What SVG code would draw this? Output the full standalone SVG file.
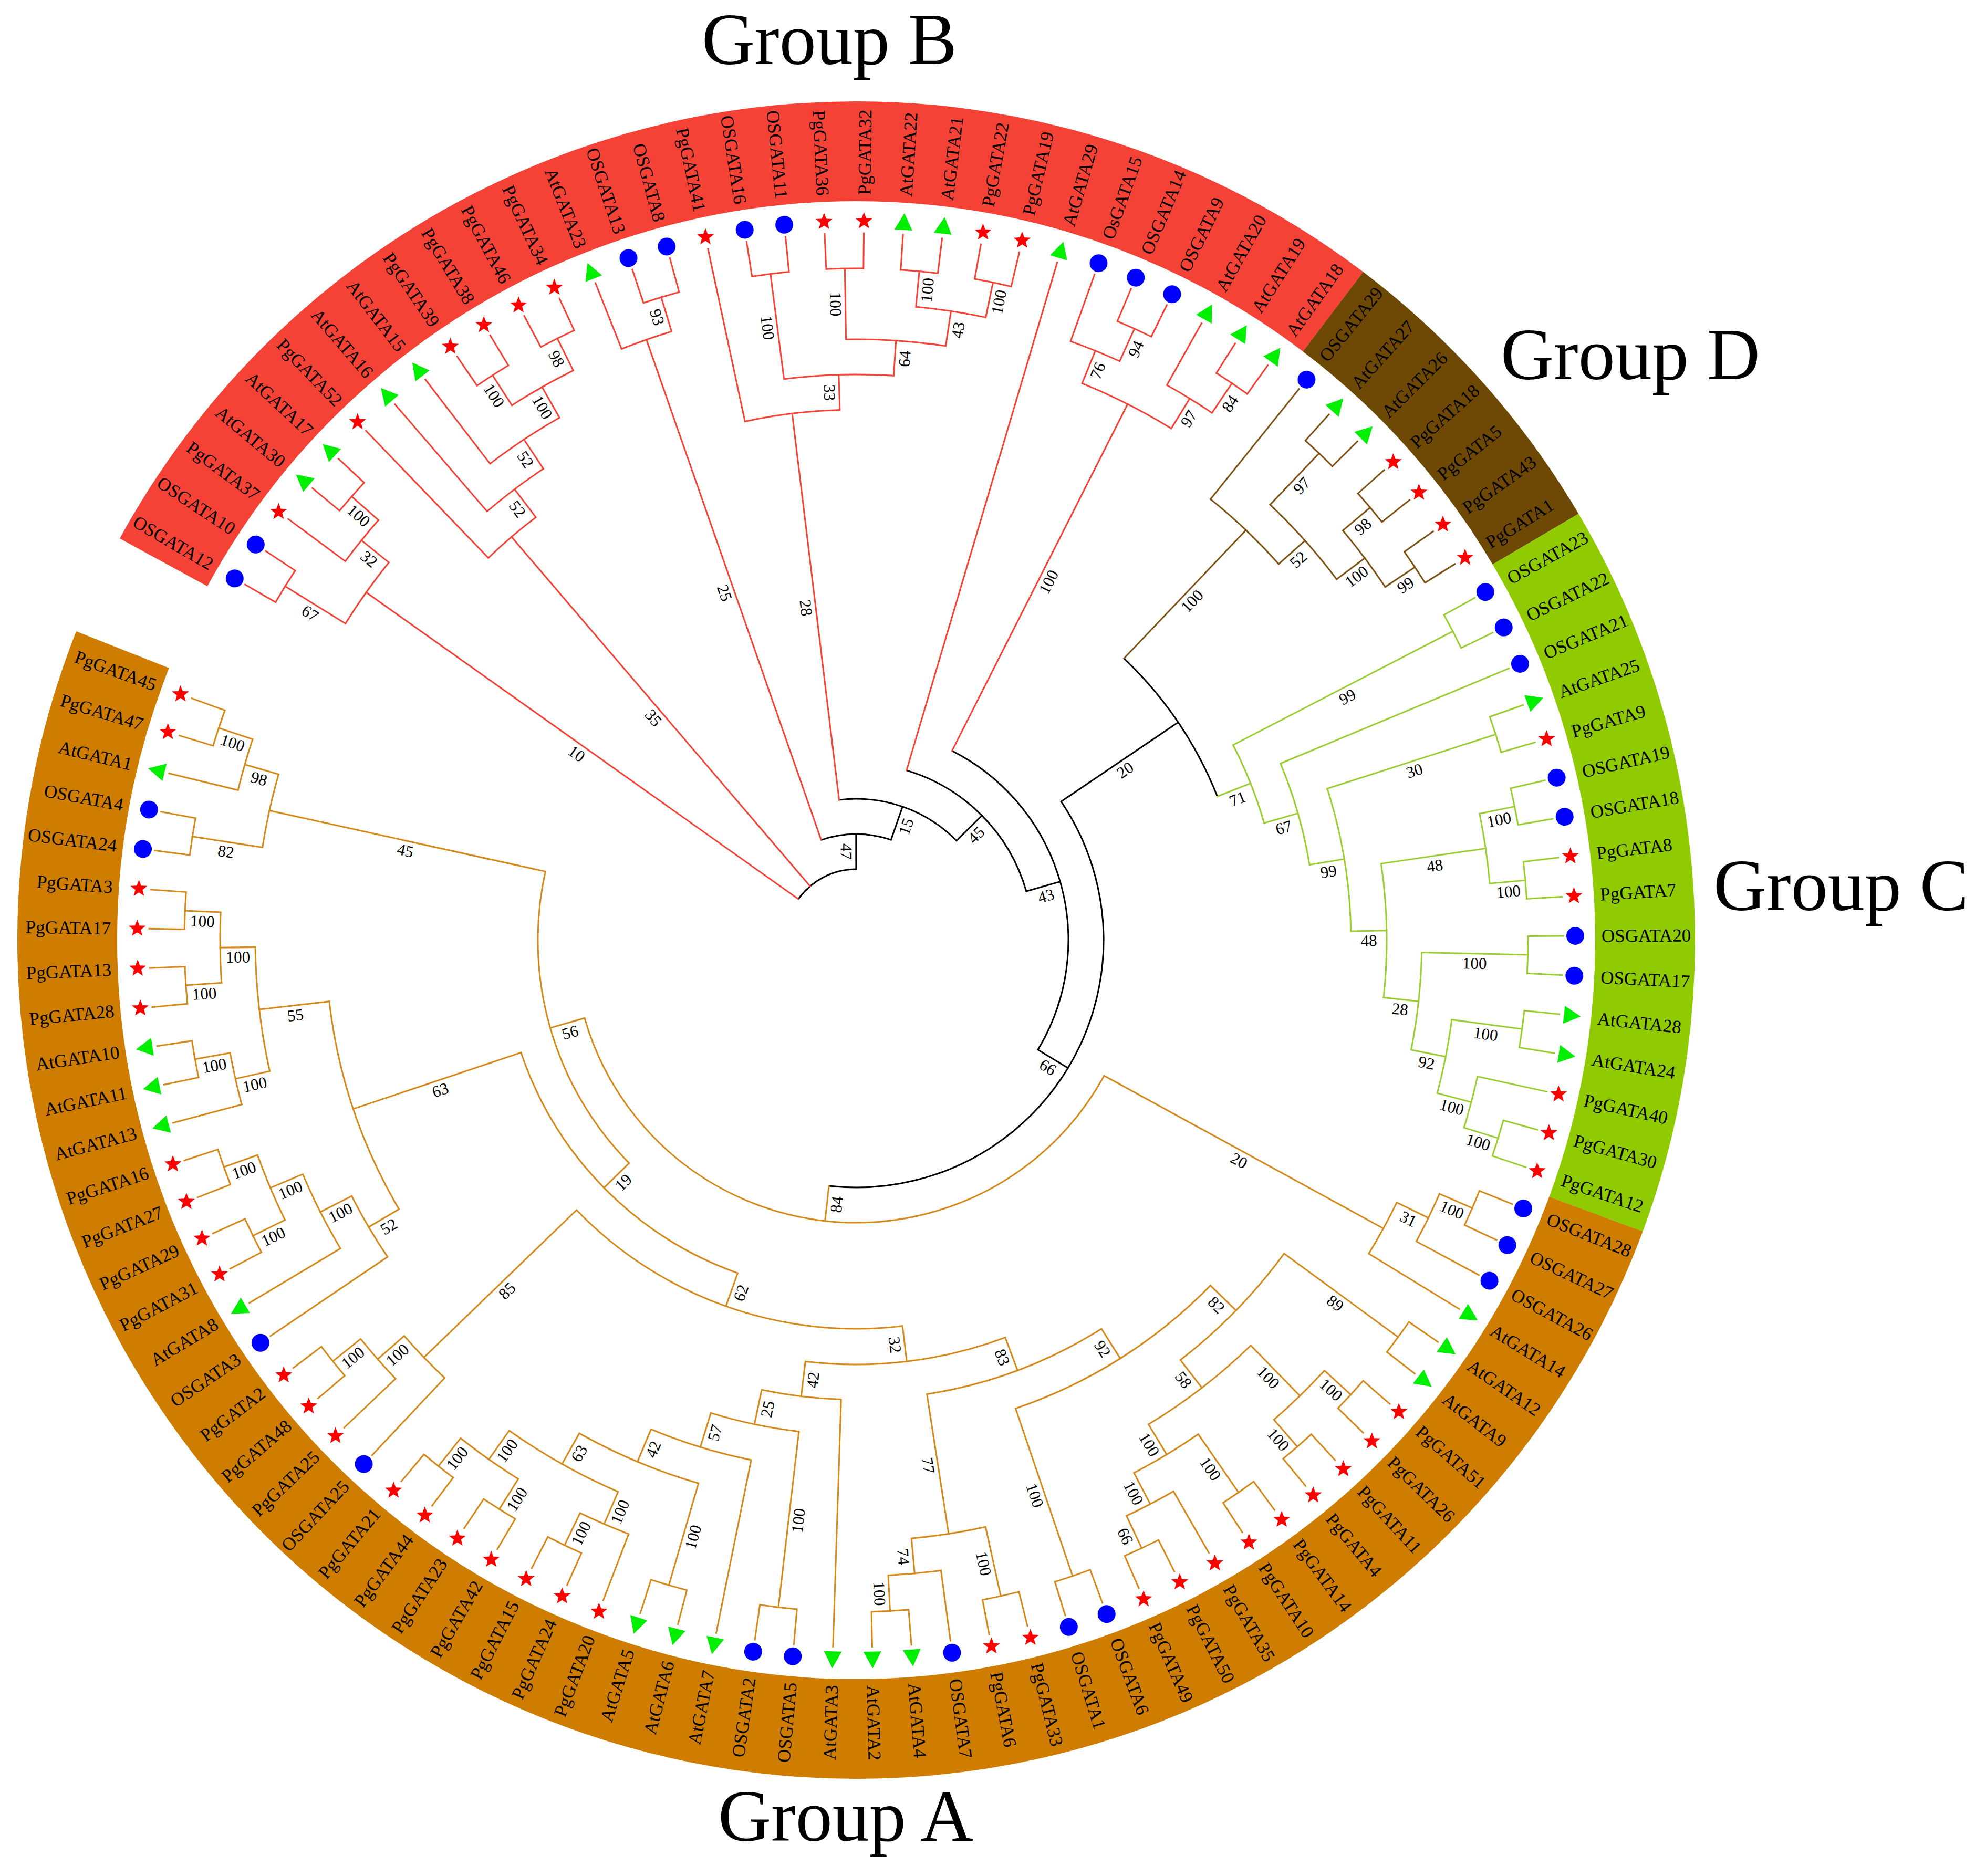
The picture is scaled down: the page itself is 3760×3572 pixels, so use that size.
<svg xmlns="http://www.w3.org/2000/svg" width="3760" height="3572" viewBox="0 0 3760 3572">
<style>
text{font-family:"Liberation Serif","Times New Roman",serif;fill:#000}
.lf{font-size:35px}
.f{text-anchor:end}
.bs text{font-size:31px;text-anchor:middle}
.ttl{font-size:140px}
#connectors{fill:none;stroke-width:3}
#connectors path{stroke-linecap:square}
.r{stroke:#F44336}.k{stroke:#000}.o{stroke:#D4891A}.g{stroke:#9ACD32}.b{stroke:#7D5214}
.band{fill:none;stroke-width:190}
</style>
<defs>
<polygon id="s" fill="#FF0000" points="0,-17 4.23,-5.82 16.17,-5.25 6.85,2.22 9.99,13.75 0,7.2 -9.99,13.75 -6.85,2.22 -16.17,-5.25 -4.23,-5.82"/>
<circle id="c" r="17" fill="#0000FF"/>
<polygon id="t" fill="#00EE00" points="18,0 -14,-17 -14,17"/>
</defs>
<rect width="3760" height="3572" fill="#FFFFFF"/>
<g transform="translate(1630,1790) rotate(210.2)">
<g id="bands">
<circle class="band" r="1502" stroke="#F44336" transform="rotate(-1.59)" stroke-dasharray="2584.26 99999"/>
<circle class="band" r="1502" stroke="#6E4805" transform="rotate(96.99)" stroke-dasharray="583.54 99999"/>
<circle class="band" r="1502" stroke="#8FCB00" transform="rotate(119.25)" stroke-dasharray="1333.81 99999"/>
<circle class="band" r="1502" stroke="#CE7D00" transform="rotate(170.13)" stroke-dasharray="4751.71 99999"/>
</g>
<g id="connectors">
<g class="k">
<circle r="135" transform="rotate(5.1675)" stroke-dasharray="128.62 99999"/>
<circle r="202" transform="rotate(40.545)" stroke-dasharray="135.44 99999"/>
<circle r="269" transform="rotate(52.868)" stroke-dasharray="245.02 99999"/>
<circle r="337" transform="rotate(76.32)" stroke-dasharray="338.04 99999"/>
<circle r="404" transform="rotate(86.655)" stroke-dasharray="664.74 99999"/>
<circle r="471" transform="rotate(115.728)" stroke-dasharray="1071.96 99999"/>
<circle r="740" transform="rotate(103.35)" stroke-dasharray="319.75 99999"/>
<path d="M135 0H202" transform="rotate(59.753)"/>
<path d="M202 0H269" transform="rotate(78.962)"/>
<path d="M269 0H337" transform="rotate(105.056)"/>
<path d="M337 0H404" transform="rotate(133.792)"/>
<path d="M404 0H471" transform="rotate(180.929)"/>
<path d="M471 0H740" transform="rotate(115.728)"/>
</g>
<g class="r">
<circle r="1144" transform="rotate(1.59)" stroke-dasharray="142.86 99999"/>
<circle r="1279" transform="rotate(0)" stroke-dasharray="70.99 99999"/>
<circle r="1211" transform="rotate(6.36)" stroke-dasharray="100.82 99999"/>
<circle r="1279" transform="rotate(9.54)" stroke-dasharray="70.99 99999"/>
<circle r="1010" transform="rotate(15.9)" stroke-dasharray="119.12 99999"/>
<circle r="1077" transform="rotate(19.08)" stroke-dasharray="134.49 99999"/>
<circle r="1144" transform="rotate(22.26)" stroke-dasharray="158.73 99999"/>
<circle r="1211" transform="rotate(27.03)" stroke-dasharray="134.42 99999"/>
<circle r="1279" transform="rotate(25.44)" stroke-dasharray="70.99 99999"/>
<circle r="1279" transform="rotate(31.8)" stroke-dasharray="70.99 99999"/>
<circle r="1211" transform="rotate(38.16)" stroke-dasharray="100.82 99999"/>
<circle r="1279" transform="rotate(41.34)" stroke-dasharray="70.99 99999"/>
<circle r="1010" transform="rotate(47.7)" stroke-dasharray="182.18 99999"/>
<circle r="1077" transform="rotate(52.47)" stroke-dasharray="209.21 99999"/>
<circle r="1279" transform="rotate(50.88)" stroke-dasharray="70.99 99999"/>
<circle r="1144" transform="rotate(58.83)" stroke-dasharray="190.48 99999"/>
<circle r="1279" transform="rotate(57.24)" stroke-dasharray="70.99 99999"/>
<circle r="1211" transform="rotate(65.19)" stroke-dasharray="134.42 99999"/>
<circle r="1279" transform="rotate(63.6)" stroke-dasharray="70.99 99999"/>
<circle r="1279" transform="rotate(69.96)" stroke-dasharray="70.99 99999"/>
<circle r="1144" transform="rotate(81.885)" stroke-dasharray="190.48 99999"/>
<circle r="1211" transform="rotate(79.5)" stroke-dasharray="100.82 99999"/>
<circle r="1279" transform="rotate(82.68)" stroke-dasharray="70.99 99999"/>
<circle r="1211" transform="rotate(89.04)" stroke-dasharray="100.82 99999"/>
<circle r="1279" transform="rotate(92.22)" stroke-dasharray="70.99 99999"/>
<path d="M135 0H1144" transform="rotate(5.1675)"/>
<path d="M1144 0H1279" transform="rotate(1.59)"/>
<path d="M1144 0H1211" transform="rotate(8.745)"/>
<path d="M1211 0H1279" transform="rotate(11.13)"/>
<path d="M135 0H1010" transform="rotate(19.279)"/>
<path d="M1010 0H1077" transform="rotate(22.6575)"/>
<path d="M1077 0H1144" transform="rotate(26.235)"/>
<path d="M1144 0H1211" transform="rotate(30.21)"/>
<path d="M1211 0H1279" transform="rotate(27.03)"/>
<path d="M1211 0H1279" transform="rotate(33.39)"/>
<path d="M202 0H1211" transform="rotate(40.545)"/>
<path d="M1211 0H1279" transform="rotate(42.93)"/>
<path d="M269 0H1010" transform="rotate(52.868)"/>
<path d="M1010 0H1077" transform="rotate(58.035)"/>
<path d="M1077 0H1279" transform="rotate(52.47)"/>
<path d="M1077 0H1144" transform="rotate(63.6)"/>
<path d="M1144 0H1279" transform="rotate(58.83)"/>
<path d="M1144 0H1211" transform="rotate(68.37)"/>
<path d="M1211 0H1279" transform="rotate(65.19)"/>
<path d="M1211 0H1279" transform="rotate(71.55)"/>
<path d="M404 0H1144" transform="rotate(86.655)"/>
<path d="M1144 0H1211" transform="rotate(81.885)"/>
<path d="M1211 0H1279" transform="rotate(84.27)"/>
<path d="M1144 0H1211" transform="rotate(91.425)"/>
<path d="M1211 0H1279" transform="rotate(93.81)"/>
<path d="M1279 0H1346" transform="rotate(0)"/>
<path d="M1279 0H1346" transform="rotate(3.18)"/>
<path d="M1211 0H1346" transform="rotate(6.36)"/>
<path d="M1279 0H1346" transform="rotate(9.54)"/>
<path d="M1279 0H1346" transform="rotate(12.72)"/>
<path d="M1010 0H1346" transform="rotate(15.9)"/>
<path d="M1077 0H1346" transform="rotate(19.08)"/>
<path d="M1144 0H1346" transform="rotate(22.26)"/>
<path d="M1279 0H1346" transform="rotate(25.44)"/>
<path d="M1279 0H1346" transform="rotate(28.62)"/>
<path d="M1279 0H1346" transform="rotate(31.8)"/>
<path d="M1279 0H1346" transform="rotate(34.98)"/>
<path d="M1211 0H1346" transform="rotate(38.16)"/>
<path d="M1279 0H1346" transform="rotate(41.34)"/>
<path d="M1279 0H1346" transform="rotate(44.52)"/>
<path d="M1010 0H1346" transform="rotate(47.7)"/>
<path d="M1279 0H1346" transform="rotate(50.88)"/>
<path d="M1279 0H1346" transform="rotate(54.06)"/>
<path d="M1279 0H1346" transform="rotate(57.24)"/>
<path d="M1279 0H1346" transform="rotate(60.42)"/>
<path d="M1279 0H1346" transform="rotate(63.6)"/>
<path d="M1279 0H1346" transform="rotate(66.78)"/>
<path d="M1279 0H1346" transform="rotate(69.96)"/>
<path d="M1279 0H1346" transform="rotate(73.14)"/>
<path d="M337 0H1346" transform="rotate(76.32)"/>
<path d="M1211 0H1346" transform="rotate(79.5)"/>
<path d="M1279 0H1346" transform="rotate(82.68)"/>
<path d="M1279 0H1346" transform="rotate(85.86)"/>
<path d="M1211 0H1346" transform="rotate(89.04)"/>
<path d="M1279 0H1346" transform="rotate(92.22)"/>
<path d="M1279 0H1346" transform="rotate(95.4)"/>
</g>
<g class="b">
<circle r="1077" transform="rotate(98.58)" stroke-dasharray="179.33 99999"/>
<circle r="1144" transform="rotate(103.35)" stroke-dasharray="190.48 99999"/>
<circle r="1279" transform="rotate(101.76)" stroke-dasharray="70.99 99999"/>
<circle r="1211" transform="rotate(109.71)" stroke-dasharray="134.42 99999"/>
<circle r="1279" transform="rotate(108.12)" stroke-dasharray="70.99 99999"/>
<circle r="1279" transform="rotate(114.48)" stroke-dasharray="70.99 99999"/>
<path d="M740 0H1077" transform="rotate(103.35)"/>
<path d="M1077 0H1144" transform="rotate(108.12)"/>
<path d="M1144 0H1279" transform="rotate(103.35)"/>
<path d="M1144 0H1211" transform="rotate(112.89)"/>
<path d="M1211 0H1279" transform="rotate(109.71)"/>
<path d="M1211 0H1279" transform="rotate(116.07)"/>
<path d="M1077 0H1346" transform="rotate(98.58)"/>
<path d="M1279 0H1346" transform="rotate(101.76)"/>
<path d="M1279 0H1346" transform="rotate(104.94)"/>
<path d="M1279 0H1346" transform="rotate(108.12)"/>
<path d="M1279 0H1346" transform="rotate(111.3)"/>
<path d="M1279 0H1346" transform="rotate(114.48)"/>
<path d="M1279 0H1346" transform="rotate(117.66)"/>
</g>
<g class="g">
<circle r="808" transform="rotate(122.43)" stroke-dasharray="160.11 99999"/>
<circle r="1279" transform="rotate(120.84)" stroke-dasharray="70.99 99999"/>
<circle r="875" transform="rotate(127.2)" stroke-dasharray="201.08 99999"/>
<circle r="942" transform="rotate(131.97)" stroke-dasharray="276.11 99999"/>
<circle r="1279" transform="rotate(130.38)" stroke-dasharray="70.99 99999"/>
<circle r="1010" transform="rotate(141.51)" stroke-dasharray="255.76 99999"/>
<circle r="1211" transform="rotate(138.33)" stroke-dasharray="134.42 99999"/>
<circle r="1279" transform="rotate(136.74)" stroke-dasharray="70.99 99999"/>
<circle r="1279" transform="rotate(143.1)" stroke-dasharray="70.99 99999"/>
<circle r="1077" transform="rotate(151.05)" stroke-dasharray="186.80 99999"/>
<circle r="1279" transform="rotate(149.46)" stroke-dasharray="70.99 99999"/>
<circle r="1144" transform="rotate(157.41)" stroke-dasharray="142.86 99999"/>
<circle r="1279" transform="rotate(155.82)" stroke-dasharray="70.99 99999"/>
<circle r="1211" transform="rotate(162.18)" stroke-dasharray="100.82 99999"/>
<circle r="1279" transform="rotate(165.36)" stroke-dasharray="70.99 99999"/>
<path d="M740 0H808" transform="rotate(128.107)"/>
<path d="M808 0H1279" transform="rotate(122.43)"/>
<path d="M808 0H875" transform="rotate(133.784)"/>
<path d="M875 0H942" transform="rotate(140.367)"/>
<path d="M942 0H1279" transform="rotate(131.97)"/>
<path d="M942 0H1010" transform="rotate(148.764)"/>
<path d="M1010 0H1211" transform="rotate(141.51)"/>
<path d="M1211 0H1279" transform="rotate(138.33)"/>
<path d="M1211 0H1279" transform="rotate(144.69)"/>
<path d="M1010 0H1077" transform="rotate(156.019)"/>
<path d="M1077 0H1279" transform="rotate(151.05)"/>
<path d="M1077 0H1144" transform="rotate(160.9875)"/>
<path d="M1144 0H1279" transform="rotate(157.41)"/>
<path d="M1144 0H1211" transform="rotate(164.565)"/>
<path d="M1211 0H1279" transform="rotate(166.95)"/>
<path d="M1279 0H1346" transform="rotate(120.84)"/>
<path d="M1279 0H1346" transform="rotate(124.02)"/>
<path d="M875 0H1346" transform="rotate(127.2)"/>
<path d="M1279 0H1346" transform="rotate(130.38)"/>
<path d="M1279 0H1346" transform="rotate(133.56)"/>
<path d="M1279 0H1346" transform="rotate(136.74)"/>
<path d="M1279 0H1346" transform="rotate(139.92)"/>
<path d="M1279 0H1346" transform="rotate(143.1)"/>
<path d="M1279 0H1346" transform="rotate(146.28)"/>
<path d="M1279 0H1346" transform="rotate(149.46)"/>
<path d="M1279 0H1346" transform="rotate(152.64)"/>
<path d="M1279 0H1346" transform="rotate(155.82)"/>
<path d="M1279 0H1346" transform="rotate(159)"/>
<path d="M1211 0H1346" transform="rotate(162.18)"/>
<path d="M1279 0H1346" transform="rotate(165.36)"/>
<path d="M1279 0H1346" transform="rotate(168.54)"/>
</g>
<g class="o">
<circle r="538" transform="rotate(178.478)" stroke-dasharray="1270.48 99999"/>
<circle r="1144" transform="rotate(175.695)" stroke-dasharray="111.11 99999"/>
<circle r="1211" transform="rotate(173.31)" stroke-dasharray="100.82 99999"/>
<circle r="1279" transform="rotate(171.72)" stroke-dasharray="70.99 99999"/>
<circle r="606" transform="rotate(285.312)" stroke-dasharray="602.19 99999"/>
<circle r="673" transform="rotate(259.381)" stroke-dasharray="609.17 99999"/>
<circle r="740" transform="rotate(232.96)" stroke-dasharray="682.49 99999"/>
<circle r="808" transform="rotate(219.246)" stroke-dasharray="386.79 99999"/>
<circle r="875" transform="rotate(207.545)" stroke-dasharray="357.40 99999"/>
<circle r="875" transform="rotate(241.68)" stroke-dasharray="152.52 99999"/>
<circle r="942" transform="rotate(194.08)" stroke-dasharray="442.76 99999"/>
<circle r="942" transform="rotate(246.45)" stroke-dasharray="171.55 99999"/>
<circle r="1010" transform="rotate(186.03)" stroke-dasharray="283.79 99999"/>
<circle r="1010" transform="rotate(251.22)" stroke-dasharray="199.70 99999"/>
<circle r="1010" transform="rotate(299.3175)" stroke-dasharray="420.42 99999"/>
<circle r="1077" transform="rotate(195.57)" stroke-dasharray="246.57 99999"/>
<circle r="1144" transform="rotate(227.37)" stroke-dasharray="142.86 99999"/>
<circle r="1077" transform="rotate(255.99)" stroke-dasharray="246.57 99999"/>
<circle r="1077" transform="rotate(295.74)" stroke-dasharray="134.49 99999"/>
<circle r="1144" transform="rotate(205.11)" stroke-dasharray="142.86 99999"/>
<circle r="1211" transform="rotate(192.39)" stroke-dasharray="134.42 99999"/>
<circle r="1279" transform="rotate(190.8)" stroke-dasharray="70.99 99999"/>
<circle r="1279" transform="rotate(197.16)" stroke-dasharray="70.99 99999"/>
<circle r="1279" transform="rotate(203.52)" stroke-dasharray="70.99 99999"/>
<circle r="1211" transform="rotate(209.88)" stroke-dasharray="100.82 99999"/>
<circle r="1279" transform="rotate(213.06)" stroke-dasharray="70.99 99999"/>
<circle r="1279" transform="rotate(184.44)" stroke-dasharray="70.99 99999"/>
<circle r="1279" transform="rotate(219.42)" stroke-dasharray="70.99 99999"/>
<circle r="1279" transform="rotate(225.78)" stroke-dasharray="70.99 99999"/>
<circle r="1211" transform="rotate(232.14)" stroke-dasharray="100.82 99999"/>
<circle r="1279" transform="rotate(235.32)" stroke-dasharray="70.99 99999"/>
<circle r="1279" transform="rotate(244.86)" stroke-dasharray="70.99 99999"/>
<circle r="1279" transform="rotate(254.4)" stroke-dasharray="70.99 99999"/>
<circle r="1144" transform="rotate(263.145)" stroke-dasharray="238.10 99999"/>
<circle r="1211" transform="rotate(260.76)" stroke-dasharray="100.82 99999"/>
<circle r="1279" transform="rotate(263.94)" stroke-dasharray="70.99 99999"/>
<circle r="1211" transform="rotate(271.89)" stroke-dasharray="134.42 99999"/>
<circle r="1279" transform="rotate(270.3)" stroke-dasharray="70.99 99999"/>
<circle r="1279" transform="rotate(276.66)" stroke-dasharray="70.99 99999"/>
<circle r="1144" transform="rotate(283.02)" stroke-dasharray="111.11 99999"/>
<circle r="1211" transform="rotate(286.2)" stroke-dasharray="100.82 99999"/>
<circle r="1279" transform="rotate(289.38)" stroke-dasharray="70.99 99999"/>
<circle r="1144" transform="rotate(298.92)" stroke-dasharray="158.73 99999"/>
<circle r="1211" transform="rotate(303.69)" stroke-dasharray="134.42 99999"/>
<circle r="1279" transform="rotate(302.1)" stroke-dasharray="70.99 99999"/>
<circle r="1279" transform="rotate(308.46)" stroke-dasharray="70.99 99999"/>
<circle r="1144" transform="rotate(317.205)" stroke-dasharray="238.10 99999"/>
<circle r="1211" transform="rotate(314.82)" stroke-dasharray="100.82 99999"/>
<circle r="1279" transform="rotate(318)" stroke-dasharray="70.99 99999"/>
<circle r="1211" transform="rotate(325.95)" stroke-dasharray="134.42 99999"/>
<circle r="1279" transform="rotate(324.36)" stroke-dasharray="70.99 99999"/>
<circle r="1279" transform="rotate(330.72)" stroke-dasharray="70.99 99999"/>
<circle r="1144" transform="rotate(338.67)" stroke-dasharray="142.86 99999"/>
<circle r="1279" transform="rotate(337.08)" stroke-dasharray="70.99 99999"/>
<circle r="1211" transform="rotate(343.44)" stroke-dasharray="100.82 99999"/>
<circle r="1279" transform="rotate(346.62)" stroke-dasharray="70.99 99999"/>
<path d="M471 0H538" transform="rotate(246.129)"/>
<path d="M538 0H1144" transform="rotate(178.478)"/>
<path d="M1144 0H1211" transform="rotate(175.695)"/>
<path d="M1211 0H1279" transform="rotate(173.31)"/>
<path d="M538 0H606" transform="rotate(313.78)"/>
<path d="M606 0H673" transform="rotate(285.312)"/>
<path d="M606 0H1144" transform="rotate(342.248)"/>
<path d="M1144 0H1279" transform="rotate(338.67)"/>
<path d="M1144 0H1211" transform="rotate(345.825)"/>
<path d="M1211 0H1279" transform="rotate(348.21)"/>
<path d="M673 0H740" transform="rotate(259.381)"/>
<path d="M673 0H1010" transform="rotate(311.243)"/>
<path d="M1010 0H1077" transform="rotate(299.3175)"/>
<path d="M1077 0H1144" transform="rotate(302.895)"/>
<path d="M1144 0H1211" transform="rotate(306.87)"/>
<path d="M1211 0H1279" transform="rotate(303.69)"/>
<path d="M1211 0H1279" transform="rotate(310.05)"/>
<path d="M1010 0H1144" transform="rotate(323.1675)"/>
<path d="M1144 0H1211" transform="rotate(317.205)"/>
<path d="M1211 0H1279" transform="rotate(319.59)"/>
<path d="M1144 0H1211" transform="rotate(329.13)"/>
<path d="M1211 0H1279" transform="rotate(325.95)"/>
<path d="M1211 0H1279" transform="rotate(332.31)"/>
<path d="M740 0H1144" transform="rotate(285.803)"/>
<path d="M1144 0H1211" transform="rotate(288.585)"/>
<path d="M1211 0H1279" transform="rotate(290.97)"/>
<path d="M740 0H808" transform="rotate(232.96)"/>
<path d="M808 0H875" transform="rotate(219.246)"/>
<path d="M808 0H875" transform="rotate(246.674)"/>
<path d="M875 0H942" transform="rotate(207.545)"/>
<path d="M875 0H1144" transform="rotate(230.948)"/>
<path d="M875 0H942" transform="rotate(251.667)"/>
<path d="M942 0H1010" transform="rotate(194.08)"/>
<path d="M942 0H1279" transform="rotate(221.01)"/>
<path d="M942 0H1010" transform="rotate(256.884)"/>
<path d="M942 0H1279" transform="rotate(246.45)"/>
<path d="M1010 0H1279" transform="rotate(186.03)"/>
<path d="M1010 0H1077" transform="rotate(202.129)"/>
<path d="M1010 0H1077" transform="rotate(262.549)"/>
<path d="M1077 0H1144" transform="rotate(208.6875)"/>
<path d="M1077 0H1211" transform="rotate(195.57)"/>
<path d="M1211 0H1279" transform="rotate(192.39)"/>
<path d="M1211 0H1279" transform="rotate(198.75)"/>
<path d="M1144 0H1279" transform="rotate(205.11)"/>
<path d="M1144 0H1211" transform="rotate(212.265)"/>
<path d="M1211 0H1279" transform="rotate(214.65)"/>
<path d="M1144 0H1211" transform="rotate(234.525)"/>
<path d="M1211 0H1279" transform="rotate(236.91)"/>
<path d="M1144 0H1279" transform="rotate(227.37)"/>
<path d="M1077 0H1144" transform="rotate(269.1075)"/>
<path d="M1077 0H1279" transform="rotate(255.99)"/>
<path d="M1144 0H1211" transform="rotate(263.145)"/>
<path d="M1211 0H1279" transform="rotate(265.53)"/>
<path d="M1144 0H1211" transform="rotate(275.07)"/>
<path d="M1211 0H1279" transform="rotate(271.89)"/>
<path d="M1211 0H1279" transform="rotate(278.25)"/>
<path d="M1279 0H1346" transform="rotate(171.72)"/>
<path d="M1279 0H1346" transform="rotate(174.9)"/>
<path d="M1211 0H1346" transform="rotate(178.08)"/>
<path d="M1144 0H1346" transform="rotate(181.26)"/>
<path d="M1279 0H1346" transform="rotate(184.44)"/>
<path d="M1279 0H1346" transform="rotate(187.62)"/>
<path d="M1279 0H1346" transform="rotate(190.8)"/>
<path d="M1279 0H1346" transform="rotate(193.98)"/>
<path d="M1279 0H1346" transform="rotate(197.16)"/>
<path d="M1279 0H1346" transform="rotate(200.34)"/>
<path d="M1279 0H1346" transform="rotate(203.52)"/>
<path d="M1279 0H1346" transform="rotate(206.7)"/>
<path d="M1211 0H1346" transform="rotate(209.88)"/>
<path d="M1279 0H1346" transform="rotate(213.06)"/>
<path d="M1279 0H1346" transform="rotate(216.24)"/>
<path d="M1279 0H1346" transform="rotate(219.42)"/>
<path d="M1279 0H1346" transform="rotate(222.6)"/>
<path d="M1279 0H1346" transform="rotate(225.78)"/>
<path d="M1279 0H1346" transform="rotate(228.96)"/>
<path d="M1211 0H1346" transform="rotate(232.14)"/>
<path d="M1279 0H1346" transform="rotate(235.32)"/>
<path d="M1279 0H1346" transform="rotate(238.5)"/>
<path d="M875 0H1346" transform="rotate(241.68)"/>
<path d="M1279 0H1346" transform="rotate(244.86)"/>
<path d="M1279 0H1346" transform="rotate(248.04)"/>
<path d="M1010 0H1346" transform="rotate(251.22)"/>
<path d="M1279 0H1346" transform="rotate(254.4)"/>
<path d="M1279 0H1346" transform="rotate(257.58)"/>
<path d="M1211 0H1346" transform="rotate(260.76)"/>
<path d="M1279 0H1346" transform="rotate(263.94)"/>
<path d="M1279 0H1346" transform="rotate(267.12)"/>
<path d="M1279 0H1346" transform="rotate(270.3)"/>
<path d="M1279 0H1346" transform="rotate(273.48)"/>
<path d="M1279 0H1346" transform="rotate(276.66)"/>
<path d="M1279 0H1346" transform="rotate(279.84)"/>
<path d="M1144 0H1346" transform="rotate(283.02)"/>
<path d="M1211 0H1346" transform="rotate(286.2)"/>
<path d="M1279 0H1346" transform="rotate(289.38)"/>
<path d="M1279 0H1346" transform="rotate(292.56)"/>
<path d="M1077 0H1346" transform="rotate(295.74)"/>
<path d="M1144 0H1346" transform="rotate(298.92)"/>
<path d="M1279 0H1346" transform="rotate(302.1)"/>
<path d="M1279 0H1346" transform="rotate(305.28)"/>
<path d="M1279 0H1346" transform="rotate(308.46)"/>
<path d="M1279 0H1346" transform="rotate(311.64)"/>
<path d="M1211 0H1346" transform="rotate(314.82)"/>
<path d="M1279 0H1346" transform="rotate(318)"/>
<path d="M1279 0H1346" transform="rotate(321.18)"/>
<path d="M1279 0H1346" transform="rotate(324.36)"/>
<path d="M1279 0H1346" transform="rotate(327.54)"/>
<path d="M1279 0H1346" transform="rotate(330.72)"/>
<path d="M1279 0H1346" transform="rotate(333.9)"/>
<path d="M1279 0H1346" transform="rotate(337.08)"/>
<path d="M1279 0H1346" transform="rotate(340.26)"/>
<path d="M1211 0H1346" transform="rotate(343.44)"/>
<path d="M1279 0H1346" transform="rotate(346.62)"/>
<path d="M1279 0H1346" transform="rotate(349.8)"/>
</g>
</g>
<g id="bootstrap" class="bs">
<text transform="rotate(185.1675)" x="-639.5" y="29">10</text>
<text transform="rotate(181.59)" x="-1211.5" y="29">67</text>
<text transform="rotate(188.745)" x="-1177.5" y="29">32</text>
<text transform="rotate(191.13)" x="-1245" y="29">100</text>
<text transform="rotate(199.279)" x="-572.5" y="29">35</text>
<text transform="rotate(202.6575)" x="-1043.5" y="29">52</text>
<text transform="rotate(206.235)" x="-1110.5" y="29">52</text>
<text transform="rotate(210.21)" x="-1177.5" y="29">100</text>
<text transform="rotate(207.03)" x="-1245" y="29">100</text>
<text transform="rotate(213.39)" x="-1245" y="29">98</text>
<text transform="rotate(220.545)" x="-706.5" y="29">25</text>
<text transform="rotate(222.93)" x="-1245" y="29">93</text>
<text transform="rotate(232.868)" x="-639.5" y="29">28</text>
<text transform="rotate(238.035)" x="-1043.5" y="29">33</text>
<text transform="rotate(232.47)" x="-1178" y="29">100</text>
<text transform="rotate(238.83)" x="-1211.5" y="29">100</text>
<text transform="rotate(239.753)" x="-168.5" y="29">47</text>
<text transform="rotate(63.6)" x="1110.5" y="29">64</text>
<text transform="rotate(68.37)" x="1177.5" y="29">43</text>
<text transform="rotate(65.19)" x="1245" y="29">100</text>
<text transform="rotate(71.55)" x="1245" y="29">100</text>
<text transform="rotate(86.655)" x="774" y="29">100</text>
<text transform="rotate(81.885)" x="1177.5" y="29">76</text>
<text transform="rotate(84.27)" x="1245" y="29">94</text>
<text transform="rotate(91.425)" x="1177.5" y="29">97</text>
<text transform="rotate(93.81)" x="1245" y="29">84</text>
<text transform="rotate(78.962)" x="235.5" y="29">15</text>
<text transform="rotate(105.056)" x="303" y="29">45</text>
<text transform="rotate(133.792)" x="370.5" y="29">43</text>
<text transform="rotate(180.929)" x="437.5" y="29">66</text>
<text transform="rotate(115.728)" x="605.5" y="29">20</text>
<text transform="rotate(103.35)" x="908.5" y="29">100</text>
<text transform="rotate(108.12)" x="1110.5" y="29">52</text>
<text transform="rotate(103.35)" x="1211.5" y="29">97</text>
<text transform="rotate(112.89)" x="1177.5" y="29">100</text>
<text transform="rotate(109.71)" x="1245" y="29">98</text>
<text transform="rotate(116.07)" x="1245" y="29">99</text>
<text transform="rotate(128.107)" x="774" y="29">71</text>
<text transform="rotate(122.43)" x="1043.5" y="29">99</text>
<text transform="rotate(133.784)" x="841.5" y="29">67</text>
<text transform="rotate(140.367)" x="908.5" y="29">99</text>
<text transform="rotate(131.97)" x="1110.5" y="29">30</text>
<text transform="rotate(148.764)" x="976" y="29">48</text>
<text transform="rotate(141.51)" x="1110.5" y="29">48</text>
<text transform="rotate(138.33)" x="1245" y="29">100</text>
<text transform="rotate(144.69)" x="1245" y="29">100</text>
<text transform="rotate(156.019)" x="1043.5" y="29">28</text>
<text transform="rotate(151.05)" x="1178" y="29">100</text>
<text transform="rotate(160.9875)" x="1110.5" y="29">92</text>
<text transform="rotate(157.41)" x="1211.5" y="29">100</text>
<text transform="rotate(164.565)" x="1177.5" y="29">100</text>
<text transform="rotate(166.95)" x="1245" y="29">100</text>
<text transform="rotate(178.478)" x="841" y="29">20</text>
<text transform="rotate(175.695)" x="1177.5" y="29">31</text>
<text transform="rotate(173.31)" x="1245" y="29">100</text>
<text transform="rotate(232.96)" x="774" y="29">32</text>
<text transform="rotate(219.246)" x="841.5" y="29">83</text>
<text transform="rotate(207.545)" x="908.5" y="29">92</text>
<text transform="rotate(230.948)" x="1009.5" y="29">77</text>
<text transform="rotate(194.08)" x="976" y="29">82</text>
<text transform="rotate(221.01)" x="1110.5" y="29">100</text>
<text transform="rotate(186.03)" x="1144.5" y="29">89</text>
<text transform="rotate(202.129)" x="1043.5" y="29">58</text>
<text transform="rotate(208.6875)" x="1110.5" y="29">100</text>
<text transform="rotate(195.57)" x="1144" y="29">100</text>
<text transform="rotate(192.39)" x="1245" y="29">100</text>
<text transform="rotate(198.75)" x="1245" y="29">100</text>
<text transform="rotate(205.11)" x="1211.5" y="29">100</text>
<text transform="rotate(212.265)" x="1177.5" y="29">100</text>
<text transform="rotate(214.65)" x="1245" y="29">66</text>
<text transform="rotate(234.525)" x="1177.5" y="29">74</text>
<text transform="rotate(236.91)" x="1245" y="29">100</text>
<text transform="rotate(227.37)" x="1211.5" y="29">100</text>
<text transform="rotate(426.129)" x="-504.5" y="29">84</text>
<text transform="rotate(493.78)" x="-572" y="29">56</text>
<text transform="rotate(465.312)" x="-639.5" y="29">19</text>
<text transform="rotate(522.248)" x="-875" y="29">45</text>
<text transform="rotate(518.67)" x="-1211.5" y="29">82</text>
<text transform="rotate(525.825)" x="-1177.5" y="29">98</text>
<text transform="rotate(528.21)" x="-1245" y="29">100</text>
<text transform="rotate(439.381)" x="-706.5" y="29">62</text>
<text transform="rotate(491.243)" x="-841.5" y="29">63</text>
<text transform="rotate(479.3175)" x="-1043.5" y="29">52</text>
<text transform="rotate(482.895)" x="-1110.5" y="29">100</text>
<text transform="rotate(486.87)" x="-1177.5" y="29">100</text>
<text transform="rotate(483.69)" x="-1245" y="29">100</text>
<text transform="rotate(490.05)" x="-1245" y="29">100</text>
<text transform="rotate(503.1675)" x="-1077" y="29">55</text>
<text transform="rotate(497.205)" x="-1177.5" y="29">100</text>
<text transform="rotate(499.59)" x="-1245" y="29">100</text>
<text transform="rotate(509.13)" x="-1177.5" y="29">100</text>
<text transform="rotate(505.95)" x="-1245" y="29">100</text>
<text transform="rotate(512.31)" x="-1245" y="29">100</text>
<text transform="rotate(465.803)" x="-942" y="29">85</text>
<text transform="rotate(468.585)" x="-1177.5" y="29">100</text>
<text transform="rotate(470.97)" x="-1245" y="29">100</text>
<text transform="rotate(426.674)" x="-841.5" y="29">42</text>
<text transform="rotate(431.667)" x="-908.5" y="29">25</text>
<text transform="rotate(436.884)" x="-976" y="29">57</text>
<text transform="rotate(426.45)" x="-1110.5" y="29">100</text>
<text transform="rotate(442.549)" x="-1043.5" y="29">42</text>
<text transform="rotate(449.1075)" x="-1110.5" y="29">63</text>
<text transform="rotate(435.99)" x="-1178" y="29">100</text>
<text transform="rotate(443.145)" x="-1177.5" y="29">100</text>
<text transform="rotate(445.53)" x="-1245" y="29">100</text>
<text transform="rotate(455.07)" x="-1177.5" y="29">100</text>
<text transform="rotate(451.89)" x="-1245" y="29">100</text>
<text transform="rotate(458.25)" x="-1245" y="29">100</text>
</g>
<g id="leaves">
<g id="OSGATA12" transform="rotate(0)"><use href="#c" x="1369"/><text class="lf f" transform="rotate(180)" x="-1419" y="12">OSGATA12</text></g>
<g id="OSGATA10" transform="rotate(3.18)"><use href="#c" x="1369"/><text class="lf f" transform="rotate(180)" x="-1419" y="12">OSGATA10</text></g>
<g id="PgGATA37" transform="rotate(6.36)"><use href="#s" transform="translate(1369) rotate(-216.56)"/><text class="lf f" transform="rotate(180)" x="-1419" y="12">PgGATA37</text></g>
<g id="AtGATA30" transform="rotate(9.54)"><use href="#t" x="1369"/><text class="lf f" transform="rotate(180)" x="-1419" y="12">AtGATA30</text></g>
<g id="AtGATA17" transform="rotate(12.72)"><use href="#t" x="1369"/><text class="lf f" transform="rotate(180)" x="-1419" y="12">AtGATA17</text></g>
<g id="PgGATA52" transform="rotate(15.9)"><use href="#s" transform="translate(1369) rotate(-226.1)"/><text class="lf f" transform="rotate(180)" x="-1419" y="12">PgGATA52</text></g>
<g id="AtGATA16" transform="rotate(19.08)"><use href="#t" x="1369"/><text class="lf f" transform="rotate(180)" x="-1419" y="12">AtGATA16</text></g>
<g id="AtGATA15" transform="rotate(22.26)"><use href="#t" x="1369"/><text class="lf f" transform="rotate(180)" x="-1419" y="12">AtGATA15</text></g>
<g id="PgGATA39" transform="rotate(25.44)"><use href="#s" transform="translate(1369) rotate(-235.64)"/><text class="lf f" transform="rotate(180)" x="-1419" y="12">PgGATA39</text></g>
<g id="PgGATA38" transform="rotate(28.62)"><use href="#s" transform="translate(1369) rotate(-238.82)"/><text class="lf f" transform="rotate(180)" x="-1419" y="12">PgGATA38</text></g>
<g id="PgGATA46" transform="rotate(31.8)"><use href="#s" transform="translate(1369) rotate(-242)"/><text class="lf f" transform="rotate(180)" x="-1419" y="12">PgGATA46</text></g>
<g id="PgGATA34" transform="rotate(34.98)"><use href="#s" transform="translate(1369) rotate(-245.18)"/><text class="lf f" transform="rotate(180)" x="-1419" y="12">PgGATA34</text></g>
<g id="AtGATA23" transform="rotate(38.16)"><use href="#t" x="1369"/><text class="lf f" transform="rotate(180)" x="-1419" y="12">AtGATA23</text></g>
<g id="OSGATA13" transform="rotate(41.34)"><use href="#c" x="1369"/><text class="lf f" transform="rotate(180)" x="-1419" y="12">OSGATA13</text></g>
<g id="OSGATA8" transform="rotate(44.52)"><use href="#c" x="1369"/><text class="lf f" transform="rotate(180)" x="-1419" y="12">OSGATA8</text></g>
<g id="PgGATA41" transform="rotate(47.7)"><use href="#s" transform="translate(1369) rotate(-257.9)"/><text class="lf f" transform="rotate(180)" x="-1419" y="12">PgGATA41</text></g>
<g id="OSGATA16" transform="rotate(50.88)"><use href="#c" x="1369"/><text class="lf f" transform="rotate(180)" x="-1419" y="12">OSGATA16</text></g>
<g id="OSGATA11" transform="rotate(54.06)"><use href="#c" x="1369"/><text class="lf f" transform="rotate(180)" x="-1419" y="12">OSGATA11</text></g>
<g id="PgGATA36" transform="rotate(57.24)"><use href="#s" transform="translate(1369) rotate(-267.44)"/><text class="lf f" transform="rotate(180)" x="-1419" y="12">PgGATA36</text></g>
<g id="PgGATA32" transform="rotate(60.42)"><use href="#s" transform="translate(1369) rotate(-270.62)"/><text class="lf" x="1419" y="12">PgGATA32</text></g>
<g id="AtGATA22" transform="rotate(63.6)"><use href="#t" x="1369"/><text class="lf" x="1419" y="12">AtGATA22</text></g>
<g id="AtGATA21" transform="rotate(66.78)"><use href="#t" x="1369"/><text class="lf" x="1419" y="12">AtGATA21</text></g>
<g id="PgGATA22" transform="rotate(69.96)"><use href="#s" transform="translate(1369) rotate(-280.16)"/><text class="lf" x="1419" y="12">PgGATA22</text></g>
<g id="PgGATA19" transform="rotate(73.14)"><use href="#s" transform="translate(1369) rotate(-283.34)"/><text class="lf" x="1419" y="12">PgGATA19</text></g>
<g id="AtGATA29" transform="rotate(76.32)"><use href="#t" x="1369"/><text class="lf" x="1419" y="12">AtGATA29</text></g>
<g id="OsGATA15" transform="rotate(79.5)"><use href="#c" x="1369"/><text class="lf" x="1419" y="12">OsGATA15</text></g>
<g id="OSGATA14" transform="rotate(82.68)"><use href="#c" x="1369"/><text class="lf" x="1419" y="12">OSGATA14</text></g>
<g id="OSGATA9" transform="rotate(85.86)"><use href="#c" x="1369"/><text class="lf" x="1419" y="12">OSGATA9</text></g>
<g id="AtGATA20" transform="rotate(89.04)"><use href="#t" x="1369"/><text class="lf" x="1419" y="12">AtGATA20</text></g>
<g id="AtGATA19" transform="rotate(92.22)"><use href="#t" x="1369"/><text class="lf" x="1419" y="12">AtGATA19</text></g>
<g id="AtGATA18" transform="rotate(95.4)"><use href="#t" x="1369"/><text class="lf" x="1419" y="12">AtGATA18</text></g>
<g id="OSGATA29" transform="rotate(98.58)"><use href="#c" x="1369"/><text class="lf" x="1419" y="12">OSGATA29</text></g>
<g id="AtGATA27" transform="rotate(101.76)"><use href="#t" x="1369"/><text class="lf" x="1419" y="12">AtGATA27</text></g>
<g id="AtGATA26" transform="rotate(104.94)"><use href="#t" x="1369"/><text class="lf" x="1419" y="12">AtGATA26</text></g>
<g id="PgGATA18" transform="rotate(108.12)"><use href="#s" transform="translate(1369) rotate(-318.32)"/><text class="lf" x="1419" y="12">PgGATA18</text></g>
<g id="PgGATA5" transform="rotate(111.3)"><use href="#s" transform="translate(1369) rotate(-321.5)"/><text class="lf" x="1419" y="12">PgGATA5</text></g>
<g id="PgGATA43" transform="rotate(114.48)"><use href="#s" transform="translate(1369) rotate(-324.68)"/><text class="lf" x="1419" y="12">PgGATA43</text></g>
<g id="PgGATA1" transform="rotate(117.66)"><use href="#s" transform="translate(1369) rotate(-327.86)"/><text class="lf" x="1419" y="12">PgGATA1</text></g>
<g id="OSGATA23" transform="rotate(120.84)"><use href="#c" x="1369"/><text class="lf" x="1419" y="12">OSGATA23</text></g>
<g id="OSGATA22" transform="rotate(124.02)"><use href="#c" x="1369"/><text class="lf" x="1419" y="12">OSGATA22</text></g>
<g id="OSGATA21" transform="rotate(127.2)"><use href="#c" x="1369"/><text class="lf" x="1419" y="12">OSGATA21</text></g>
<g id="AtGATA25" transform="rotate(130.38)"><use href="#t" x="1369"/><text class="lf" x="1419" y="12">AtGATA25</text></g>
<g id="PgGATA9" transform="rotate(133.56)"><use href="#s" transform="translate(1369) rotate(-343.76)"/><text class="lf" x="1419" y="12">PgGATA9</text></g>
<g id="OSGATA19" transform="rotate(136.74)"><use href="#c" x="1369"/><text class="lf" x="1419" y="12">OSGATA19</text></g>
<g id="OSGATA18" transform="rotate(139.92)"><use href="#c" x="1369"/><text class="lf" x="1419" y="12">OSGATA18</text></g>
<g id="PgGATA8" transform="rotate(143.1)"><use href="#s" transform="translate(1369) rotate(-353.3)"/><text class="lf" x="1419" y="12">PgGATA8</text></g>
<g id="PgGATA7" transform="rotate(146.28)"><use href="#s" transform="translate(1369) rotate(-356.48)"/><text class="lf" x="1419" y="12">PgGATA7</text></g>
<g id="OSGATA20" transform="rotate(149.46)"><use href="#c" x="1369"/><text class="lf" x="1419" y="12">OSGATA20</text></g>
<g id="OSGATA17" transform="rotate(152.64)"><use href="#c" x="1369"/><text class="lf" x="1419" y="12">OSGATA17</text></g>
<g id="AtGATA28" transform="rotate(155.82)"><use href="#t" x="1369"/><text class="lf" x="1419" y="12">AtGATA28</text></g>
<g id="AtGATA24" transform="rotate(159)"><use href="#t" x="1369"/><text class="lf" x="1419" y="12">AtGATA24</text></g>
<g id="PgGATA40" transform="rotate(162.18)"><use href="#s" transform="translate(1369) rotate(-372.38)"/><text class="lf" x="1419" y="12">PgGATA40</text></g>
<g id="PgGATA30" transform="rotate(165.36)"><use href="#s" transform="translate(1369) rotate(-375.56)"/><text class="lf" x="1419" y="12">PgGATA30</text></g>
<g id="PgGATA12" transform="rotate(168.54)"><use href="#s" transform="translate(1369) rotate(-378.74)"/><text class="lf" x="1419" y="12">PgGATA12</text></g>
<g id="OSGATA28" transform="rotate(171.72)"><use href="#c" x="1369"/><text class="lf" x="1419" y="12">OSGATA28</text></g>
<g id="OSGATA27" transform="rotate(174.9)"><use href="#c" x="1369"/><text class="lf" x="1419" y="12">OSGATA27</text></g>
<g id="OSGATA26" transform="rotate(178.08)"><use href="#c" x="1369"/><text class="lf" x="1419" y="12">OSGATA26</text></g>
<g id="AtGATA14" transform="rotate(181.26)"><use href="#t" x="1369"/><text class="lf" x="1419" y="12">AtGATA14</text></g>
<g id="AtGATA12" transform="rotate(184.44)"><use href="#t" x="1369"/><text class="lf" x="1419" y="12">AtGATA12</text></g>
<g id="AtGATA9" transform="rotate(187.62)"><use href="#t" x="1369"/><text class="lf" x="1419" y="12">AtGATA9</text></g>
<g id="PgGATA51" transform="rotate(190.8)"><use href="#s" transform="translate(1369) rotate(-401)"/><text class="lf" x="1419" y="12">PgGATA51</text></g>
<g id="PgGATA26" transform="rotate(193.98)"><use href="#s" transform="translate(1369) rotate(-404.18)"/><text class="lf" x="1419" y="12">PgGATA26</text></g>
<g id="PgGATA11" transform="rotate(197.16)"><use href="#s" transform="translate(1369) rotate(-407.36)"/><text class="lf" x="1419" y="12">PgGATA11</text></g>
<g id="PgGATA4" transform="rotate(200.34)"><use href="#s" transform="translate(1369) rotate(-410.54)"/><text class="lf" x="1419" y="12">PgGATA4</text></g>
<g id="PgGATA14" transform="rotate(203.52)"><use href="#s" transform="translate(1369) rotate(-413.72)"/><text class="lf" x="1419" y="12">PgGATA14</text></g>
<g id="PgGATA10" transform="rotate(206.7)"><use href="#s" transform="translate(1369) rotate(-416.9)"/><text class="lf" x="1419" y="12">PgGATA10</text></g>
<g id="PgGATA35" transform="rotate(209.88)"><use href="#s" transform="translate(1369) rotate(-420.08)"/><text class="lf" x="1419" y="12">PgGATA35</text></g>
<g id="PgGATA50" transform="rotate(213.06)"><use href="#s" transform="translate(1369) rotate(-423.26)"/><text class="lf" x="1419" y="12">PgGATA50</text></g>
<g id="PgGATA49" transform="rotate(216.24)"><use href="#s" transform="translate(1369) rotate(-426.44)"/><text class="lf" x="1419" y="12">PgGATA49</text></g>
<g id="OSGATA6" transform="rotate(219.42)"><use href="#c" x="1369"/><text class="lf" x="1419" y="12">OSGATA6</text></g>
<g id="OSGATA1" transform="rotate(222.6)"><use href="#c" x="1369"/><text class="lf" x="1419" y="12">OSGATA1</text></g>
<g id="PgGATA33" transform="rotate(225.78)"><use href="#s" transform="translate(1369) rotate(-435.98)"/><text class="lf" x="1419" y="12">PgGATA33</text></g>
<g id="PgGATA6" transform="rotate(228.96)"><use href="#s" transform="translate(1369) rotate(-439.16)"/><text class="lf" x="1419" y="12">PgGATA6</text></g>
<g id="OSGATA7" transform="rotate(232.14)"><use href="#c" x="1369"/><text class="lf" x="1419" y="12">OSGATA7</text></g>
<g id="AtGATA4" transform="rotate(235.32)"><use href="#t" x="1369"/><text class="lf" x="1419" y="12">AtGATA4</text></g>
<g id="AtGATA2" transform="rotate(238.5)"><use href="#t" x="1369"/><text class="lf" x="1419" y="12">AtGATA2</text></g>
<g id="AtGATA3" transform="rotate(241.68)"><use href="#t" x="1369"/><text class="lf f" transform="rotate(180)" x="-1419" y="12">AtGATA3</text></g>
<g id="OSGATA5" transform="rotate(244.86)"><use href="#c" x="1369"/><text class="lf f" transform="rotate(180)" x="-1419" y="12">OSGATA5</text></g>
<g id="OSGATA2" transform="rotate(248.04)"><use href="#c" x="1369"/><text class="lf f" transform="rotate(180)" x="-1419" y="12">OSGATA2</text></g>
<g id="AtGATA7" transform="rotate(251.22)"><use href="#t" x="1369"/><text class="lf f" transform="rotate(180)" x="-1419" y="12">AtGATA7</text></g>
<g id="AtGATA6" transform="rotate(254.4)"><use href="#t" x="1369"/><text class="lf f" transform="rotate(180)" x="-1419" y="12">AtGATA6</text></g>
<g id="AtGATA5" transform="rotate(257.58)"><use href="#t" x="1369"/><text class="lf f" transform="rotate(180)" x="-1419" y="12">AtGATA5</text></g>
<g id="PgGATA20" transform="rotate(260.76)"><use href="#s" transform="translate(1369) rotate(-470.96)"/><text class="lf f" transform="rotate(180)" x="-1419" y="12">PgGATA20</text></g>
<g id="PgGATA24" transform="rotate(263.94)"><use href="#s" transform="translate(1369) rotate(-474.14)"/><text class="lf f" transform="rotate(180)" x="-1419" y="12">PgGATA24</text></g>
<g id="PgGATA15" transform="rotate(267.12)"><use href="#s" transform="translate(1369) rotate(-477.32)"/><text class="lf f" transform="rotate(180)" x="-1419" y="12">PgGATA15</text></g>
<g id="PgGATA42" transform="rotate(270.3)"><use href="#s" transform="translate(1369) rotate(-480.5)"/><text class="lf f" transform="rotate(180)" x="-1419" y="12">PgGATA42</text></g>
<g id="PgGATA23" transform="rotate(273.48)"><use href="#s" transform="translate(1369) rotate(-483.68)"/><text class="lf f" transform="rotate(180)" x="-1419" y="12">PgGATA23</text></g>
<g id="PgGATA44" transform="rotate(276.66)"><use href="#s" transform="translate(1369) rotate(-486.86)"/><text class="lf f" transform="rotate(180)" x="-1419" y="12">PgGATA44</text></g>
<g id="PgGATA21" transform="rotate(279.84)"><use href="#s" transform="translate(1369) rotate(-490.04)"/><text class="lf f" transform="rotate(180)" x="-1419" y="12">PgGATA21</text></g>
<g id="OSGATA25" transform="rotate(283.02)"><use href="#c" x="1369"/><text class="lf f" transform="rotate(180)" x="-1419" y="12">OSGATA25</text></g>
<g id="PgGATA25" transform="rotate(286.2)"><use href="#s" transform="translate(1369) rotate(-496.4)"/><text class="lf f" transform="rotate(180)" x="-1419" y="12">PgGATA25</text></g>
<g id="PgGATA48" transform="rotate(289.38)"><use href="#s" transform="translate(1369) rotate(-499.58)"/><text class="lf f" transform="rotate(180)" x="-1419" y="12">PgGATA48</text></g>
<g id="PgGATA2" transform="rotate(292.56)"><use href="#s" transform="translate(1369) rotate(-502.76)"/><text class="lf f" transform="rotate(180)" x="-1419" y="12">PgGATA2</text></g>
<g id="OSGATA3" transform="rotate(295.74)"><use href="#c" x="1369"/><text class="lf f" transform="rotate(180)" x="-1419" y="12">OSGATA3</text></g>
<g id="AtGATA8" transform="rotate(298.92)"><use href="#t" x="1369"/><text class="lf f" transform="rotate(180)" x="-1419" y="12">AtGATA8</text></g>
<g id="PgGATA31" transform="rotate(302.1)"><use href="#s" transform="translate(1369) rotate(-512.3)"/><text class="lf f" transform="rotate(180)" x="-1419" y="12">PgGATA31</text></g>
<g id="PgGATA29" transform="rotate(305.28)"><use href="#s" transform="translate(1369) rotate(-515.48)"/><text class="lf f" transform="rotate(180)" x="-1419" y="12">PgGATA29</text></g>
<g id="PgGATA27" transform="rotate(308.46)"><use href="#s" transform="translate(1369) rotate(-518.66)"/><text class="lf f" transform="rotate(180)" x="-1419" y="12">PgGATA27</text></g>
<g id="PgGATA16" transform="rotate(311.64)"><use href="#s" transform="translate(1369) rotate(-521.84)"/><text class="lf f" transform="rotate(180)" x="-1419" y="12">PgGATA16</text></g>
<g id="AtGATA13" transform="rotate(314.82)"><use href="#t" x="1369"/><text class="lf f" transform="rotate(180)" x="-1419" y="12">AtGATA13</text></g>
<g id="AtGATA11" transform="rotate(318)"><use href="#t" x="1369"/><text class="lf f" transform="rotate(180)" x="-1419" y="12">AtGATA11</text></g>
<g id="AtGATA10" transform="rotate(321.18)"><use href="#t" x="1369"/><text class="lf f" transform="rotate(180)" x="-1419" y="12">AtGATA10</text></g>
<g id="PgGATA28" transform="rotate(324.36)"><use href="#s" transform="translate(1369) rotate(-534.56)"/><text class="lf f" transform="rotate(180)" x="-1419" y="12">PgGATA28</text></g>
<g id="PgGATA13" transform="rotate(327.54)"><use href="#s" transform="translate(1369) rotate(-537.74)"/><text class="lf f" transform="rotate(180)" x="-1419" y="12">PgGATA13</text></g>
<g id="PgGATA17" transform="rotate(330.72)"><use href="#s" transform="translate(1369) rotate(-540.92)"/><text class="lf f" transform="rotate(180)" x="-1419" y="12">PgGATA17</text></g>
<g id="PgGATA3" transform="rotate(333.9)"><use href="#s" transform="translate(1369) rotate(-544.1)"/><text class="lf f" transform="rotate(180)" x="-1419" y="12">PgGATA3</text></g>
<g id="OSGATA24" transform="rotate(337.08)"><use href="#c" x="1369"/><text class="lf f" transform="rotate(180)" x="-1419" y="12">OSGATA24</text></g>
<g id="OSGATA4" transform="rotate(340.26)"><use href="#c" x="1369"/><text class="lf f" transform="rotate(180)" x="-1419" y="12">OSGATA4</text></g>
<g id="AtGATA1" transform="rotate(343.44)"><use href="#t" x="1369"/><text class="lf f" transform="rotate(180)" x="-1419" y="12">AtGATA1</text></g>
<g id="PgGATA47" transform="rotate(346.62)"><use href="#s" transform="translate(1369) rotate(-556.82)"/><text class="lf f" transform="rotate(180)" x="-1419" y="12">PgGATA47</text></g>
<g id="PgGATA45" transform="rotate(349.8)"><use href="#s" transform="translate(1369) rotate(-560)"/><text class="lf f" transform="rotate(180)" x="-1419" y="12">PgGATA45</text></g>
</g>
</g>
<g id="titles">
<text class="ttl" x="1336" y="122">Group B</text>
<text class="ttl" x="2857" y="722">Group D</text>
<text class="ttl" x="3262" y="1733">Group C</text>
<text class="ttl" x="1367" y="3505">Group A</text>
</g>
</svg>
